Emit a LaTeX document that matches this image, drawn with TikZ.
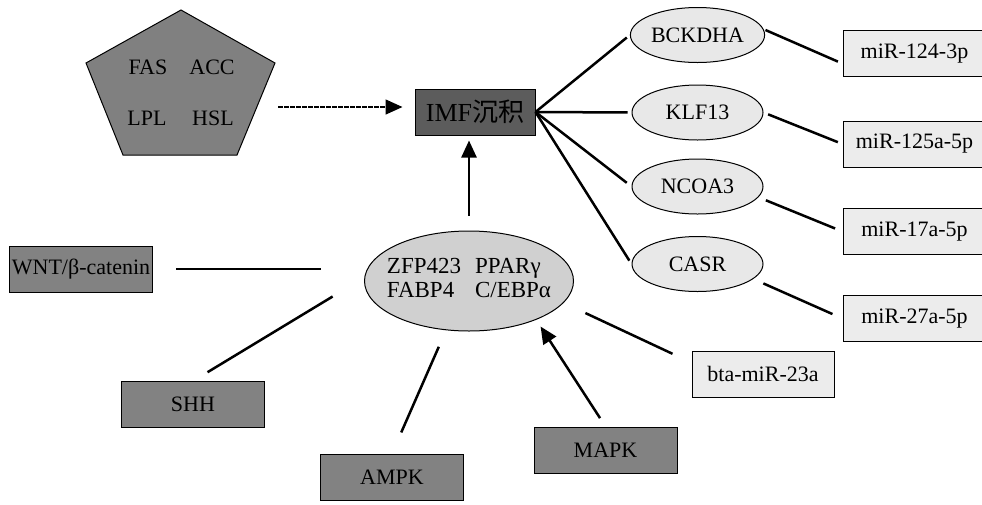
\documentclass[tikz,border=0pt]{standalone}
\usepackage{fontspec}
\setmainfont{Liberation Serif}
\newfontfamily\cjkfont{Noto Sans CJK SC}
\usepackage{tikz}
\usetikzlibrary{shapes.geometric, arrows.meta, calc}
\definecolor{pentagray}{RGB}{128, 128, 128}
\definecolor{boxdark}{RGB}{130, 130, 130}
\definecolor{imfdark}{RGB}{92, 92, 92}
\definecolor{coregray}{RGB}{208, 208, 208}
\definecolor{genegray}{RGB}{232, 232, 232}
\definecolor{mirgray}{RGB}{236, 236, 236}

\begin{document}
\begin{tikzpicture}[
    x=1pt, y=-1pt,
    every node/.style={font=\fontsize{22}{24}\selectfont, inner sep=1pt},
    darkbox/.style={draw, line width=1pt, fill=boxdark, minimum width=143pt, minimum height=46pt},
    lightbox/.style={draw, line width=1pt, fill=mirgray, minimum width=142pt, minimum height=46pt},
    geneell/.style={draw, ellipse, line width=1pt, fill=genegray, minimum width=131pt, minimum height=55pt},
    link/.style={line width=2.5pt},
    arrowlink/.style={line width=2.5pt, -{Triangle[length=17pt, width=15pt]}}
]

    \useasboundingbox (0,0) rectangle (982,504);

    % pentagon with enzymes
    \draw[line width=1pt, fill=pentagray] (181,10) -- (275,63) -- (237,155) -- (123,155) -- (86,63) -- cycle;
    \node (fas) at (148,67) {FAS};
    \node (acc) at (212,67) {ACC};
    \node (lpl) at (147,118) {LPL};
    \node (hsl) at (213,118) {HSL};
    \coordinate (penta) at (278,107);

    \node[draw, line width=1pt, fill=imfdark, minimum width=120pt, minimum height=46pt,
          font=\fontsize{26}{28}\selectfont] (imf) at (475,112) {IMF{\cjkfont 沉积}};

    % core adipogenic factors
    \node[draw, ellipse, line width=1pt, fill=coregray, minimum width=209pt, minimum height=100pt,
          inner xsep=-9pt, inner ysep=0pt, font=\fontsize{23}{24}\selectfont] (core) at (469,281)
        {\begin{tabular}{@{}l@{\hspace{14pt}}l@{}}ZFP423 & PPARγ\\ FABP4 & C/EBPα\end{tabular}};

    \node[darkbox] (wnt) at (81,269) {WNT/β-catenin};
    \node[darkbox] (shh) at (193,404.5) {SHH};
    \node[darkbox] (ampk) at (392,477) {AMPK};
    \node[darkbox] (mapk) at (605.5,450) {MAPK};
    \node[lightbox] (bta) at (763,374) {bta-miR-23a};

    \node[geneell] (bckdha) at (697.5,35) {BCKDHA};
    \node[geneell] (klf13) at (697.5,112.5) {KLF13};
    \node[geneell] (ncoa3) at (697.5,186.5) {NCOA3};
    \node[geneell] (casr) at (697.5,264) {CASR};

    \node[lightbox, minimum width=143pt] (mir124) at (914.5,53.5) {miR-124-3p};
    \node[lightbox, minimum width=143pt] (mir125) at (914.5,144) {miR-125a-5p};
    \node[lightbox, minimum width=143pt] (mir17) at (914.5,231.5) {miR-17a-5p};
    \node[lightbox, minimum width=143pt] (mir27) at (914.5,318.5) {miR-27a-5p};

    % connectors
    \draw[line width=1.5pt, dash pattern=on 5pt off 1pt, -{Triangle[length=17pt, width=15pt]}, shorten >=12pt]
        (penta) -- (penta -| imf.west);
    \draw[arrowlink, shorten <=15pt, shorten >=5pt] (core.north) -- (core.north |- imf.south);

    \draw[link, shorten >=4pt] (imf.east) -- (bckdha.west);
    \draw[link, shorten >=4pt] (imf.east) -- (klf13.west);
    \draw[link, shorten >=6pt] (imf.east) -- (ncoa3.west);
    \draw[link, shorten >=4pt] (imf.east) -- (casr.west);

    \draw[link, shorten <=2pt, shorten >=5pt] (bckdha.5) -- (mir124.188);
    \draw[link, shorten <=5pt, shorten >=5pt] (klf13.east) -- (mir125.west);
    \draw[link, shorten <=8pt, shorten >=8pt] (ncoa3.-10) -- (mir17.west);
    \draw[link, shorten <=11pt, shorten >=11pt] (casr.-15) -- (mir27.west);

    \draw[link, shorten <=23pt, shorten >=43pt] (wnt.east) -- (wnt.east -| core.west);
    \draw[link, shorten <=17pt, shorten >=37pt] (shh.north) -- (core.178);
    \draw[link, shorten <=23pt, shorten >=18pt] (ampk.north) -- (core.-115);
    \draw[arrowlink, shorten <=10pt, shorten >=8pt] (mapk.north) -- (core.-30);
    \draw[link, shorten <=24pt, shorten >=21pt] (core.-13) -- (bta.171);

\end{tikzpicture}
\end{document}
